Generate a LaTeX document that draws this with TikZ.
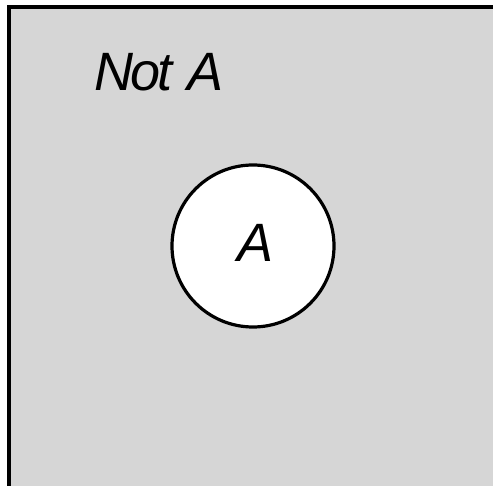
\documentclass[tikz,border=0pt]{standalone}
\usepackage{fontspec}
\setmainfont{Liberation Sans}
\begin{document}
\begin{tikzpicture}[x=1pt,y=-1pt,
  lbl/.style={inner sep=0pt, font=\fontsize{54}{54}\selectfont\itshape},
  edge/.style={line width=4pt, line cap=rect}]
\useasboundingbox (0,0) rectangle (493,486);
\clip (0,0) rectangle (493,486);
% universe: grey region, only top and left edges visible
\fill[fill={rgb,255:red,214;green,214;blue,214}] (9,7) rectangle (500,500);
\draw[edge] (9,500) -- (9,7) -- (500,7);
% set A
\node[circle, draw, line width=3.2pt, fill=white, minimum size=162pt, inner sep=0pt] (setA) at (253,246) {};
\node[lbl, anchor=base] (labA) at (256,262) {A};
\node[lbl, anchor=base west] (notA) at (94,91) {N\kern-2.5pt o\kern-3pt t A};
\end{tikzpicture}
\end{document}
